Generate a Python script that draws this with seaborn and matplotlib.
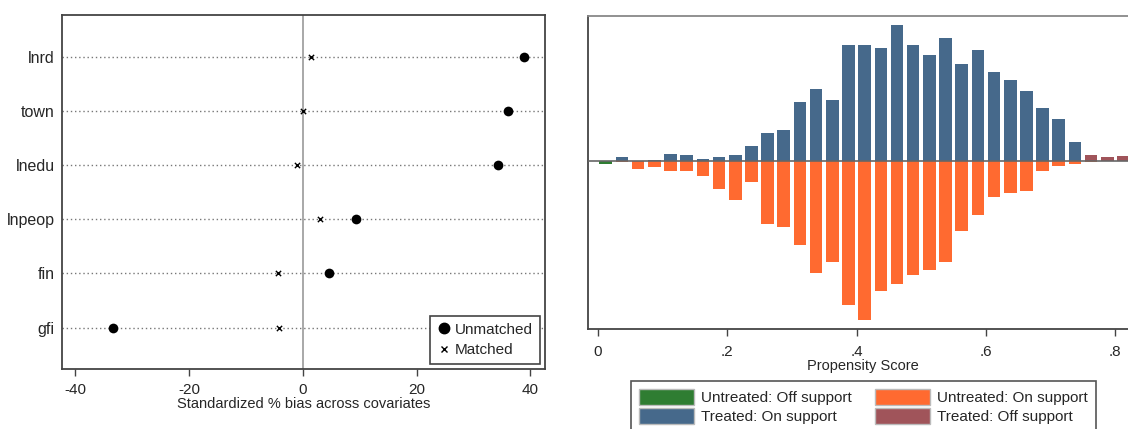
import numpy as np
import pandas as pd
import matplotlib
matplotlib.use("Agg")
import matplotlib.pyplot as plt
import seaborn as sns
from matplotlib.lines import Line2D
from matplotlib.patches import Patch

# ---- left panel: standardized % bias
covariates = ["lnrd", "town", "lnedu", "lnpeop", "fin", "gfi"]
bias_unmatched = [38.9, 36.1, 34.3, 9.3, 4.6, -33.4]
bias_matched = [1.4, 0.1, -1.1, 3.0, -4.3, -4.1]

# ---- right panel: propensity score histogram (bin width .025, starting at 0)
ps_bins = np.arange(33) * 0.025 + 0.0125
treated_on = [0, 4.0, 0.5, 1.3, 7.0, 6.0, 2.3, 3.7, 6.0, 15.0, 28.3, 30.7,
              59.0, 72.3, 61.3, 115.7, 115.7, 113.0, 135.7, 115.7, 106.3,
              122.7, 97.3, 110.7, 89.3, 81.3, 70.3, 53.0, 42.0, 19.3, 0, 0, 0]
treated_off = [0] * 30 + [6.0, 3.7, 5.0]
untreated_on = [0, 1.3, 7.7, 5.7, 10.3, 10.3, 15.0, 28.0, 39.3, 20.7, 63.3,
                66.0, 84.0, 111.7, 100.7, 144.3, 159.0, 130.0, 123.0, 114.3,
                109.0, 101.3, 70.3, 53.7, 36.3, 31.7, 29.7, 10.3, 5.3, 3.3,
                0.7, 0, 0]
untreated_off = [3.0] + [0] * 32

sns.set_theme(style="white")
plt.rcParams["font.family"] = ["Liberation Sans", "DejaVu Sans"]
plt.rcParams["axes.unicode_minus"] = False

fig = plt.figure(figsize=(11.28, 4.29), dpi=100)
ax1 = fig.add_axes([0.0547, 0.1392, 0.4285, 0.826])
ax2 = fig.add_axes([0.521, 0.2324, 0.4888, 0.7303])

# ---------------- left
df_bias = pd.DataFrame({"cov": covariates,
                        "unmatched": bias_unmatched,
                        "matched": bias_matched})
ax1.axvline(0, color="#999999", lw=1.2, zorder=1)
for i in range(len(covariates)):
    ax1.axhline(i, color="#777777", lw=1.0, ls=(0, (1, 2)), zorder=1)
sns.stripplot(data=df_bias, x="matched", y="cov", jitter=False, marker="x",
              color="black", size=3.8, linewidth=1.0, ax=ax1, zorder=3)
sns.stripplot(data=df_bias, x="unmatched", y="cov", jitter=False, marker="o",
              color="black", size=7, linewidth=0, ax=ax1, zorder=3)
ax1.set_xlim(-42.4, 42.6)
ax1.set_ylim(5.77, -0.77)
ax1.set_xticks([-40, -20, 0, 20, 40])
ax1.tick_params(axis="x", bottom=True, length=5, width=1, color="#444444",
                labelsize=11, pad=5)
ax1.tick_params(axis="y", left=False, length=0, labelsize=11.5, pad=5)
ax1.set_xlabel("Standardized % bias across covariates", fontsize=10.5, labelpad=0)
ax1.set_ylabel("")
for s in ax1.spines.values():
    s.set_color("#444444")
    s.set_linewidth(1.3)
h1 = [Line2D([], [], marker="o", color="black", ls="", markersize=7.5),
      Line2D([], [], marker="x", color="black", ls="", markersize=4, mew=1)]
leg1 = ax1.legend(h1, ["Unmatched", "Matched"], loc="lower right",
                  fontsize=11, frameon=True, fancybox=False, framealpha=1,
                  edgecolor="#444444", handletextpad=0.2, borderpad=0.45,
                  handlelength=1.0, labelspacing=0.45, borderaxespad=0,
                  bbox_to_anchor=(0.989, 0.014))
leg1.get_frame().set_linewidth(1.2)

# ---------------- right
c_green = "#2f7d32"
c_orange = "#ff6a30"
c_blue = "#46698b"
c_red = "#a0545a"
bar_w = 0.78
sns.barplot(x=ps_bins, y=treated_on, native_scale=True, color=c_blue,
            saturation=1, width=bar_w, linewidth=0, errorbar=None, ax=ax2)
sns.barplot(x=ps_bins, y=treated_off, native_scale=True, color=c_red,
            saturation=1, width=bar_w, linewidth=0, errorbar=None, ax=ax2)
sns.barplot(x=ps_bins, y=-np.array(untreated_on), native_scale=True,
            color=c_orange, saturation=1, width=bar_w, linewidth=0,
            errorbar=None, ax=ax2)
sns.barplot(x=ps_bins, y=-np.array(untreated_off), native_scale=True,
            color=c_green, saturation=1, width=bar_w, linewidth=0,
            errorbar=None, ax=ax2)
ax2.axhline(0, color="#666666", lw=1.2, zorder=5)
ax2.set_xlim(-0.0155, 0.8366)
ax2.set_ylim(-168.3, 145)
ax2.set_xticks([0, 0.2, 0.4, 0.6, 0.8])
ax2.set_xticklabels(["0", ".2", ".4", ".6", ".8"])
ax2.set_yticks([])
ax2.tick_params(axis="x", bottom=True, length=5, width=1, color="#444444",
                labelsize=11, pad=6)
ax2.set_xlabel("Propensity Score", fontsize=10.5, labelpad=0)
ax2.set_ylabel("")
for k, s in ax2.spines.items():
    s.set_color("#444444" if k in ("left", "bottom") else "#888888")
    s.set_linewidth(1.3)

h2 = [Patch(facecolor=c_green, edgecolor="#bbbbbb"),
      Patch(facecolor=c_blue, edgecolor="#bbbbbb"),
      Patch(facecolor=c_orange, edgecolor="#bbbbbb"),
      Patch(facecolor=c_red, edgecolor="#bbbbbb")]
labs2 = ["Untreated: Off support", "Treated: On support",
         "Untreated: On support", "Treated: Off support"]
leg2 = fig.legend(h2, labs2, ncol=2, loc="upper center",
                  bbox_to_anchor=(0.7654, 0.112), fontsize=11, frameon=True,
                  fancybox=False, framealpha=1, edgecolor="#555555",
                  handlelength=3.6, handleheight=1.3, handletextpad=0.5,
                  columnspacing=1.5, labelspacing=0.15, borderpad=0.5,
                  borderaxespad=0)
leg2.get_frame().set_linewidth(1.2)

fig.savefig("out.png", dpi=100)
